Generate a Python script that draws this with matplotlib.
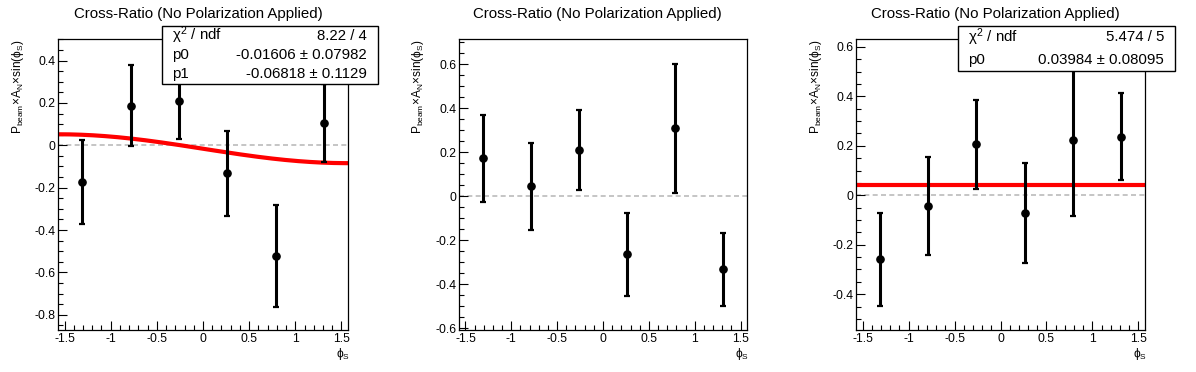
import numpy as np
import matplotlib
matplotlib.use('Agg')
import matplotlib.pyplot as plt
from matplotlib.ticker import MultipleLocator

# --- Data ---
PHI_S = [-5 * np.pi / 12, -3 * np.pi / 12, -np.pi / 12, np.pi / 12, 3 * np.pi / 12, 5 * np.pi / 12]

Y_LEFT = [-0.173, 0.186, 0.210, -0.133, -0.522, 0.105]
ERR_LEFT = [0.197, 0.191, 0.180, 0.200, 0.241, 0.183]

Y_MID = [0.172, 0.045, 0.209, -0.265, 0.309, -0.333]
ERR_MID = [0.197, 0.198, 0.182, 0.187, 0.293, 0.166]

Y_RIGHT = [-0.259, -0.044, 0.207, -0.072, 0.223, 0.236]
ERR_RIGHT = [0.189, 0.197, 0.180, 0.203, 0.305, 0.176]

# fit results shown in the stat boxes
FIT_LEFT = {'chi2': '8.22 / 4', 'p0': -0.01606, 'p0_err': 0.07982, 'p1': -0.06818, 'p1_err': 0.1129}
FIT_RIGHT = {'chi2': '5.474 / 5', 'p0': 0.03984, 'p0_err': 0.08095}

TITLE = 'Cross-Ratio (No Polarization Applied)'
YLABEL = r'$\mathregular{P_{beam}{\times}A_{N}{\times}sin(\phi_{S})}$'
XLABEL = r'$\mathregular{\phi_{S}}$'

# --- Style ---
plt.rcParams['font.family'] = ['Liberation Sans', 'DejaVu Sans']
plt.rcParams['mathtext.fontset'] = 'custom'
plt.rcParams['mathtext.rm'] = 'Liberation Sans'
plt.rcParams['mathtext.it'] = 'Liberation Sans'
plt.rcParams['mathtext.bf'] = 'Liberation Sans:bold'
plt.rcParams['mathtext.fallback'] = 'stixsans'

W, H = 1196, 372
fig = plt.figure(figsize=(W / 100, H / 100), dpi=100)


def px(x, y):
    # pixel (from top-left) -> figure fraction
    return x / W, 1 - y / H


# axes boxes in pixels: left, top, right, bottom
AX_BOXES = [(58, 39, 348, 330), (459, 39, 747, 330), (856, 39, 1145, 330)]
YLIMS = [(-0.872, 0.502), (-0.608, 0.714), (-0.545, 0.632)]
TITLE_X = [198, 597, 995]
YLABEL_X = [18, 418, 816]

panels = [(Y_LEFT, ERR_LEFT), (Y_MID, ERR_MID), (Y_RIGHT, ERR_RIGHT)]
axes = []
for i, ((l, t, r, b), (yv, ye)) in enumerate(zip(AX_BOXES, panels)):
    ax = fig.add_axes([l / W, 1 - b / H, (r - l) / W, (b - t) / H])
    ax.set_xlim(-np.pi / 2, np.pi / 2)
    ax.set_ylim(*YLIMS[i])
    ax.axhline(0, color='#bbbbbb', lw=1.2, ls=(0, (3, 2)), zorder=1)
    ax.errorbar(PHI_S, yv, yerr=ye, fmt='o', color='black', ms=5.2, elinewidth=2.2,
                capsize=2, capthick=1.6, zorder=3)
    ax.xaxis.set_major_locator(MultipleLocator(0.5))
    ax.xaxis.set_minor_locator(MultipleLocator(0.1))
    ax.yaxis.set_major_locator(MultipleLocator(0.2))
    ax.yaxis.set_minor_locator(MultipleLocator(0.05))
    ax.tick_params(which='both', direction='in', top=False, right=False, width=0.8,
                   labelsize=8.8, pad=2)
    ax.tick_params(which='major', length=6.5)
    ax.tick_params(which='minor', length=3.5)
    ax.xaxis.set_major_formatter(plt.FuncFormatter(lambda v, p: f'{v:g}'))
    ax.yaxis.set_major_formatter(plt.FuncFormatter(lambda v, p: f'{v:g}'))
    for s in ax.spines.values():
        s.set_linewidth(0.9)
    fig.text(*px(TITLE_X[i], 14), TITLE, ha='center', va='center', fontsize=10.8)
    fig.text(*px(YLABEL_X[i], 40), YLABEL, rotation=90, ha='center', va='top', fontsize=8.6)
    fig.text(*px(r + 2, 345.5), XLABEL, ha='right', va='top', fontsize=8.6)
    axes.append(ax)

# fit curves
xf = np.linspace(-np.pi / 2, np.pi / 2, 200)
axes[0].plot(xf, FIT_LEFT['p0'] + FIT_LEFT['p1'] * np.sin(xf), color='red', lw=3, zorder=2,
             solid_capstyle='butt')
axes[2].plot(xf, np.full_like(xf, FIT_RIGHT['p0']), color='red', lw=3, zorder=2,
             solid_capstyle='butt')


# stat boxes
def stat_box(x0, y0, x1, y1, rows):
    lx, ty = px(x0, y0)
    rx, by = px(x1, y1)
    fig.patches.append(plt.Rectangle((lx, by), rx - lx, ty - by, transform=fig.transFigure,
                                     facecolor='white', edgecolor='black', lw=1, zorder=5))
    n = len(rows)
    step = (y1 - y0) / n
    for k, (name, val) in enumerate(rows):
        yc = y0 + step * (k + 0.5)
        fig.text(*px(x0 + 10, yc), name, ha='left', va='center', fontsize=10.8, zorder=6)
        fig.text(*px(x1 - 11, yc), val, ha='right', va='center', fontsize=10.8, zorder=6)


stat_box(162, 26, 378, 84, [
    (r'$\chi^{2}$ / ndf', FIT_LEFT['chi2']),
    ('p0', f"{FIT_LEFT['p0']:.5f} \u00b1 {FIT_LEFT['p0_err']:.5f}"),
    ('p1', f"{FIT_LEFT['p1']:.5f} \u00b1 {FIT_LEFT['p1_err']:.4f}"),
])
stat_box(958, 26, 1175, 71, [
    (r'$\chi^{2}$ / ndf', FIT_RIGHT['chi2']),
    ('p0', f"{FIT_RIGHT['p0']:.5f} \u00b1 {FIT_RIGHT['p0_err']:.5f}"),
])

fig.savefig('out.png', dpi=100)
